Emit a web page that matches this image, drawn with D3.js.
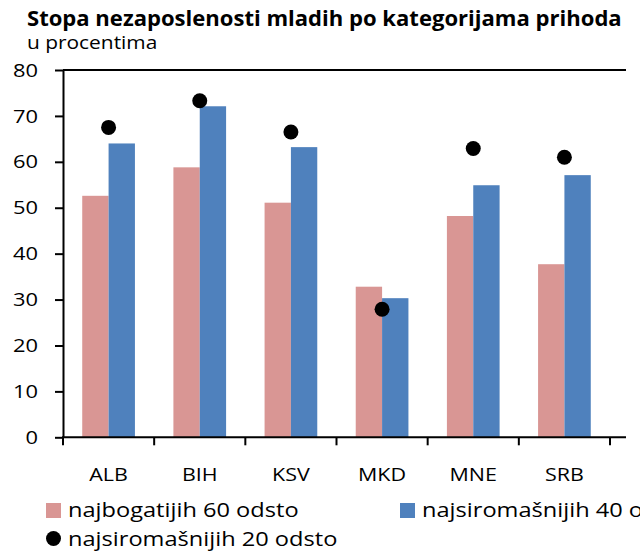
<!DOCTYPE html>
<html>
<head>
<meta charset="utf-8">
<script src="https://cdn.jsdelivr.net/npm/d3@7"></script>
<style>
  body { margin: 0; background: #fff; }
  svg text { font-family: "Open Sans", "DejaVu Sans", sans-serif; fill: #000; }
  .axis path, .axis line { stroke: #000; stroke-width: 2px; }
</style>
</head>
<body>
<div id="chart"></div>
<script>
var categories = ["ALB", "BIH", "KSV", "MKD", "MNE", "SRB"];
var richest60 = [52.6, 58.8, 51.1, 32.8, 48.2, 37.7];
var poorest40 = [64.0, 72.1, 63.2, 30.3, 54.9, 57.1];
var poorest20 = [67.5, 73.3, 66.5, 27.9, 62.9, 61.0];
var yTicks = [0, 10, 20, 30, 40, 50, 60, 70, 80];
var seriesNames = ["najbogatijih 60 odsto", "najsiromašnijih 40 odsto", "najsiromašnijih 20 odsto"];

var width = 640,
    height = 558;

var colours = {
    pink: "#D99694",
    blue: "#4F81BD",
    dot: "#000"
};

// the reference font runs a bit wider than Open Sans, stretch text horizontally
function stretch(sel, f) {
    sel.each(function() {
        var len = this.getComputedTextLength();
        d3.select(this)
            .attr("textLength", len * f)
            .attr("lengthAdjust", "spacingAndGlyphs");
    });
}

var svg = d3.select("#chart")
    .append("svg")
    .attr("width", width)
    .attr("height", height);

// title + subtitle
svg.append("text")
    .attr("x", 27)
    .attr("y", 26)
    .style("font-size", "21px")
    .style("font-weight", "bold")
    .text("Stopa nezaposlenosti mladih po kategorijama prihoda")
    .call(stretch, 1.05);

svg.append("text")
    .attr("x", 27)
    .attr("y", 49)
    .style("font-size", "18px")
    .text("u procentima")
    .call(stretch, 1.16);

var xScale = d3.scaleBand()
    .domain(categories)
    .range([63, 610])
    .padding(0);

var yScale = d3.scaleLinear()
    .domain([0, 80])
    .range([437.3, 70]);

var barW = xScale.step() * 0.289;

// top border line at 80
svg.append("line")
    .attr("x1", 63)
    .attr("x2", 626)
    .attr("y1", yScale(80))
    .attr("y2", yScale(80))
    .style("stroke", "#000")
    .style("stroke-width", 2);

// bars
var groups = svg.selectAll(".grp")
    .data(categories)
    .enter().append("g")
    .attr("class", "grp")
    .attr("transform", function(d) { return "translate(" + (xScale(d) + xScale.bandwidth() / 2) + ",0)"; });

groups.append("rect")
    .attr("x", -barW)
    .attr("y", function(d, i) { return yScale(richest60[i]); })
    .attr("width", barW)
    .attr("height", function(d, i) { return yScale(0) - yScale(richest60[i]); })
    .style("fill", colours.pink);

groups.append("rect")
    .attr("x", 0)
    .attr("y", function(d, i) { return yScale(poorest40[i]); })
    .attr("width", barW)
    .attr("height", function(d, i) { return yScale(0) - yScale(poorest40[i]); })
    .style("fill", colours.blue);

groups.append("circle")
    .attr("cx", 0)
    .attr("cy", function(d, i) { return yScale(poorest20[i]); })
    .attr("r", 7.5)
    .style("fill", colours.dot);

// y axis
var yAxis = d3.axisLeft(yScale)
    .tickValues(yTicks)
    .tickSizeInner(8)
    .tickSizeOuter(0)
    .tickPadding(17);

var gY = svg.append("g")
    .attr("class", "axis")
    .attr("transform", "translate(63,0)")
    .call(yAxis);

gY.selectAll("text")
    .style("font-size", "19px")
    .call(stretch, 1.15);

// x axis line + boundary ticks
svg.append("line")
    .attr("x1", 62)
    .attr("x2", 626)
    .attr("y1", yScale(0))
    .attr("y2", yScale(0))
    .style("stroke", "#000")
    .style("stroke-width", 2);

var bounds = categories.map(function(d) { return xScale(d); });
bounds.push(xScale(categories[categories.length - 1]) + xScale.step());

svg.selectAll(".xtick")
    .data(bounds)
    .enter().append("line")
    .attr("class", "xtick")
    .attr("x1", function(d) { return d; })
    .attr("x2", function(d) { return d; })
    .attr("y1", yScale(0))
    .attr("y2", yScale(0) + 8)
    .style("stroke", "#000")
    .style("stroke-width", 2);

svg.selectAll(".xlabel")
    .data(categories)
    .enter().append("text")
    .attr("class", "xlabel")
    .attr("x", function(d) { return xScale(d) + xScale.bandwidth() / 2; })
    .attr("y", 481)
    .style("text-anchor", "middle")
    .style("font-size", "19px")
    .text(function(d) { return d; })
    .call(stretch, 1.13);

// legend
var legend = svg.append("g").attr("class", "legend");

legend.append("rect")
    .attr("x", 46).attr("y", 503)
    .attr("width", 15).attr("height", 15)
    .style("fill", colours.pink);
legend.append("text")
    .attr("x", 68).attr("y", 517)
    .style("font-size", "20px")
    .text(seriesNames[0])
    .call(stretch, 1.18);

legend.append("rect")
    .attr("x", 400).attr("y", 503)
    .attr("width", 15).attr("height", 15)
    .style("fill", colours.blue);
legend.append("text")
    .attr("x", 422).attr("y", 517)
    .style("font-size", "20px")
    .text(seriesNames[1])
    .call(stretch, 1.18);

legend.append("circle")
    .attr("cx", 53.5).attr("cy", 538.5)
    .attr("r", 7.5)
    .style("fill", colours.dot);
legend.append("text")
    .attr("x", 68).attr("y", 546)
    .style("font-size", "20px")
    .text(seriesNames[2])
    .call(stretch, 1.18);
</script>
</body>
</html>
